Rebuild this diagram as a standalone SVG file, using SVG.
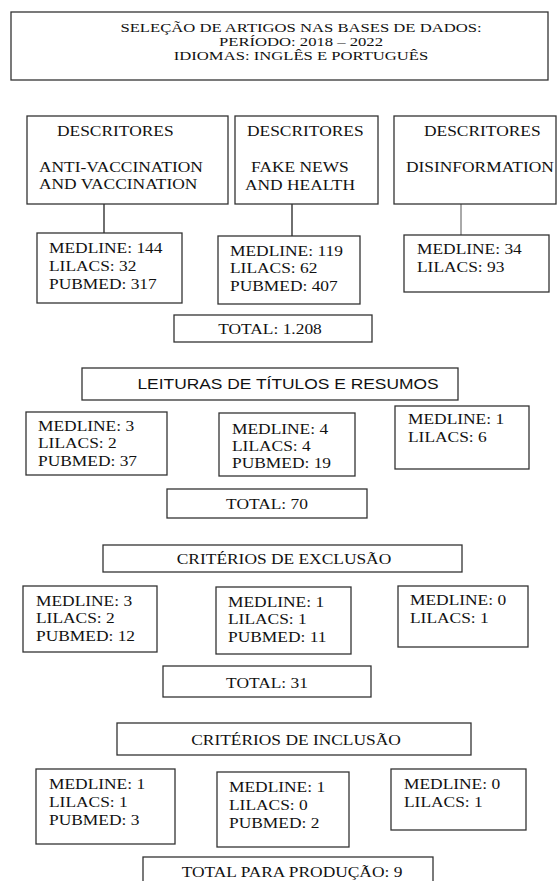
<svg xmlns="http://www.w3.org/2000/svg" width="558" height="881" viewBox="0 0 558 881">
<style>
.box{fill:#fff;stroke:#333;stroke-width:1.3}
.t{font-family:"Liberation Serif","Times New Roman",serif;font-size:15px;fill:#111}
.tt{font-family:"Liberation Serif","Times New Roman",serif;font-size:13px;fill:#111}
.s{font-family:"Liberation Sans",Arial,sans-serif;font-size:15px;fill:#111}
.c{text-anchor:middle}
.link{stroke:#222;stroke-width:1.3;fill:none}
.link2{stroke:#555;stroke-width:1;fill:none}
</style>
<rect width="558" height="881" fill="#fff"/>
<g id="connectors">
<line class="link" x1="104" y1="204" x2="104" y2="233"/>
<line class="link" x1="292" y1="204" x2="292" y2="236"/>
<line class="link2" x1="461" y1="204" x2="461" y2="235"/>
</g>
<g id="title">
<rect class="box" x="11" y="12" width="537" height="68"/>
<text class="tt c" transform="translate(301 32) scale(1.28 1)"><tspan x="0" y="0">SELEÇÃO DE ARTIGOS NAS BASES DE DADOS:</tspan><tspan x="0" y="14">PERÍODO: 2018 – 2022</tspan><tspan x="0" y="28">IDIOMAS: INGLÊS E PORTUGUÊS</tspan></text>
</g>
<g id="desc1">
<rect class="box" x="27" y="116" width="201" height="88"/>
<text class="t" transform="translate(57 136) scale(1.16 1)">DESCRITORES</text>
<text class="t" transform="translate(39 172) scale(1.16 1)"><tspan x="0" y="0">ANTI-VACCINATION</tspan><tspan x="0" y="17.5">AND VACCINATION</tspan></text>
</g>
<g id="desc2">
<rect class="box" x="235" y="116" width="143" height="88"/>
<text class="t" transform="translate(247 136) scale(1.16 1)">DESCRITORES</text>
<text class="t" transform="translate(251 172) scale(1.16 1)">FAKE NEWS</text>
<text class="t" transform="translate(245 189.5) scale(1.16 1)">AND HEALTH</text>
</g>
<g id="desc3">
<rect class="box" x="394" y="116" width="162" height="88"/>
<text class="t" transform="translate(424 136) scale(1.16 1)">DESCRITORES</text>
<text class="t" transform="translate(406 172) scale(1.16 1)">DISINFORMATION</text>
</g>
<g id="count1a">
<rect class="box" x="37" y="233" width="145" height="70"/>
<text class="t" transform="translate(49 253) scale(1.16 1)"><tspan x="0" y="0">MEDLINE: 144</tspan><tspan x="0" y="18">LILACS: 32</tspan><tspan x="0" y="36">PUBMED: 317</tspan></text>
</g>
<g id="count1b">
<rect class="box" x="218" y="236" width="142" height="68"/>
<text class="t" transform="translate(230 256) scale(1.16 1)"><tspan x="0" y="0">MEDLINE: 119</tspan><tspan x="0" y="17.5">LILACS: 62</tspan><tspan x="0" y="35">PUBMED: 407</tspan></text>
</g>
<g id="count1c">
<rect class="box" x="404" y="235" width="145" height="57"/>
<text class="t" transform="translate(417 254) scale(1.16 1)"><tspan x="0" y="0">MEDLINE: 34</tspan><tspan x="0" y="18">LILACS: 93</tspan></text>
</g>
<g id="total1">
<rect class="box" x="174" y="315" width="198" height="27"/>
<text class="t c" transform="translate(270 334) scale(1.16 1)">TOTAL: 1.208</text>
</g>
<g id="leituras">
<rect class="box" x="82" y="368" width="376" height="32"/>
<text class="s c" transform="translate(288 389) scale(1.16 1)">LEITURAS DE TÍTULOS E RESUMOS</text>
</g>
<g id="count2a">
<rect class="box" x="26" y="412" width="141" height="63"/>
<text class="t" transform="translate(38 431) scale(1.16 1)"><tspan x="0" y="0">MEDLINE: 3</tspan><tspan x="0" y="17.5">LILACS: 2</tspan><tspan x="0" y="35">PUBMED: 37</tspan></text>
</g>
<g id="count2b">
<rect class="box" x="219" y="413" width="136" height="63"/>
<text class="t" transform="translate(232 434) scale(1.16 1)"><tspan x="0" y="0">MEDLINE: 4</tspan><tspan x="0" y="17">LILACS: 4</tspan><tspan x="0" y="34">PUBMED: 19</tspan></text>
</g>
<g id="count2c">
<rect class="box" x="395" y="406" width="134" height="63"/>
<text class="t" transform="translate(408 424) scale(1.16 1)"><tspan x="0" y="0">MEDLINE: 1</tspan><tspan x="0" y="18">LILACS: 6</tspan></text>
</g>
<g id="total2">
<rect class="box" x="167" y="489" width="200" height="29"/>
<text class="t c" transform="translate(267 509) scale(1.16 1)">TOTAL: 70</text>
</g>
<g id="exclusao">
<rect class="box" x="103" y="545" width="359" height="27"/>
<text class="t c" transform="translate(284 564) scale(1.16 1)">CRITÉRIOS DE EXCLUSÃO</text>
</g>
<g id="count3a">
<rect class="box" x="23" y="586" width="134" height="66"/>
<text class="t" transform="translate(36 606) scale(1.16 1)"><tspan x="0" y="0">MEDLINE: 3</tspan><tspan x="0" y="17.5">LILACS: 2</tspan><tspan x="0" y="35">PUBMED: 12</tspan></text>
</g>
<g id="count3b">
<rect class="box" x="216" y="587" width="135" height="67"/>
<text class="t" transform="translate(228 607) scale(1.16 1)"><tspan x="0" y="0">MEDLINE: 1</tspan><tspan x="0" y="17.5">LILACS: 1</tspan><tspan x="0" y="35">PUBMED: 11</tspan></text>
</g>
<g id="count3c">
<rect class="box" x="398" y="586" width="130" height="61"/>
<text class="t" transform="translate(410 605) scale(1.16 1)"><tspan x="0" y="0">MEDLINE: 0</tspan><tspan x="0" y="18">LILACS: 1</tspan></text>
</g>
<g id="total3">
<rect class="box" x="163" y="666" width="208" height="31"/>
<text class="t c" transform="translate(267 688) scale(1.16 1)">TOTAL: 31</text>
</g>
<g id="inclusao">
<rect class="box" x="117" y="723" width="354" height="32"/>
<text class="t c" transform="translate(296 745) scale(1.16 1)">CRITÉRIOS DE INCLUSÃO</text>
</g>
<g id="count4a">
<rect class="box" x="36" y="769" width="139" height="75"/>
<text class="t" transform="translate(49 789) scale(1.16 1)"><tspan x="0" y="0">MEDLINE: 1</tspan><tspan x="0" y="18">LILACS: 1</tspan><tspan x="0" y="36">PUBMED: 3</tspan></text>
</g>
<g id="count4b">
<rect class="box" x="217" y="772" width="132" height="75"/>
<text class="t" transform="translate(229 792) scale(1.16 1)"><tspan x="0" y="0">MEDLINE: 1</tspan><tspan x="0" y="18">LILACS: 0</tspan><tspan x="0" y="36">PUBMED: 2</tspan></text>
</g>
<g id="count4c">
<rect class="box" x="391" y="769" width="135" height="61"/>
<text class="t" transform="translate(404 789) scale(1.16 1)"><tspan x="0" y="0">MEDLINE: 0</tspan><tspan x="0" y="18">LILACS: 1</tspan></text>
</g>
<g id="total4">
<rect class="box" x="143" y="857" width="290" height="40"/>
<text class="t c" transform="translate(292 877) scale(1.16 1)">TOTAL PARA PRODUÇÃO: 9</text>
</g>
</svg>
